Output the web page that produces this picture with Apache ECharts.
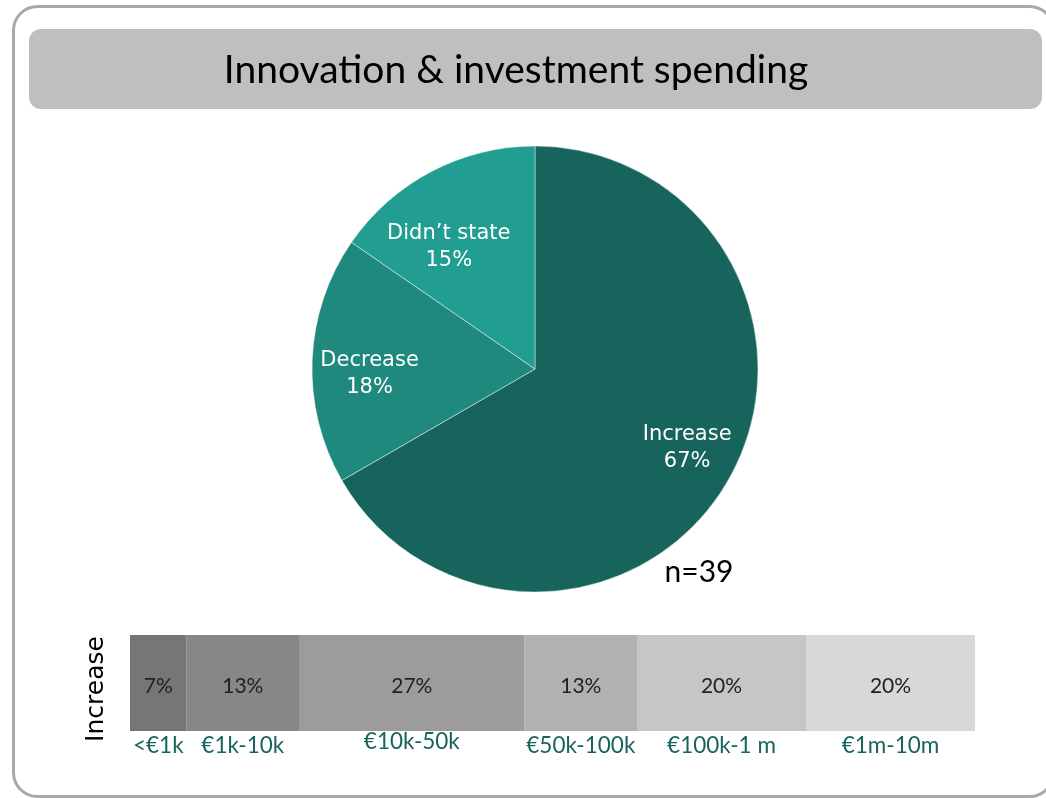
<!DOCTYPE html>
<html>
<head>
<meta charset="utf-8">
<script src="https://cdn.jsdelivr.net/npm/echarts@6/dist/echarts.min.js"></script>
<style>
  html, body { margin: 0; padding: 0; background: #fff; }
  #chart { width: 1046px; height: 798px; }
</style>
</head>
<body>
<div id="chart"></div>
<script>
// pie: answers (counts, n=39)
const pieNames = ["Increase", "Decrease", "Didn\u2019t state"];
const pieCounts = [26, 7, 6];
const pieColors = ["#17645c", "#1f897d", "#219e91"];

// bar: spend band split among the "Increase" answers (%)
const bandNames = ["<\u20ac1k", "\u20ac1k-10k", "\u20ac10k-50k", "\u20ac50k-100k", "\u20ac100k-1 m", "\u20ac1m-10m"];
const bandShares = [6.7, 13.3, 26.7, 13.3, 20, 20];
const bandColors = ["#767676", "#878787", "#9c9c9c", "#b1b1b1", "#c6c6c6", "#d8d8d8"];

const sampleText = "n=39";
const titleText = "Innovation & investment spending";

const chart = echarts.init(document.getElementById("chart"));

// label nudges so they sit where the original put them
const pieLabelOffset = [[53, 22], [-51, 10], [-33, -21]];
const bandLabelOffset = [0, 0, -4, 0, 0, 0];

let series = [];
series.push({
  type: "pie",
  center: [535, 369],
  radius: 223,
  startAngle: 90,
  silent: true,
  data: pieNames.map((n, i) => ({
    name: n,
    value: pieCounts[i],
    itemStyle: { color: pieColors[i] },
    label: { offset: pieLabelOffset[i] },
  })),
  itemStyle: { borderColor: "rgba(255,255,255,0.45)", borderWidth: 1 },
  label: {
    show: true,
    position: "inside",
    color: "#fff",
    fontFamily: "DejaVu Sans",
    fontSize: 21,
    lineHeight: 27,
    formatter: (p) => p.name + "\n" + Math.round(p.percent) + "%",
  },
  labelLine: { show: false },
});

bandNames.forEach((n, i) => {
  // the grey bar
  series.push({
    type: "bar",
    name: n,
    stack: "band",
    xAxisIndex: 0,
    yAxisIndex: 0,
    barWidth: "100%",
    silent: true,
    data: [bandShares[i]],
    itemStyle: { color: bandColors[i] },
    label: {
      show: true,
      position: "inside",
      color: "#222",
      fontFamily: "Lato",
      fontSize: 21,
      offset: [0, 3],
      formatter: (p) => Math.round(p.value) + "%",
    },
  });
  // the band names under it, same stack on a strip below
  series.push({
    type: "bar",
    name: n + "-name",
    stack: "names",
    xAxisIndex: 1,
    yAxisIndex: 1,
    barWidth: "100%",
    silent: true,
    data: [bandShares[i]],
    itemStyle: { color: "transparent" },
    label: {
      show: true,
      position: "inside",
      color: "#17645c",
      fontFamily: "Lato",
      fontSize: 22.5,
      offset: [0, bandLabelOffset[i]],
      formatter: () => n,
    },
  });
});

let option = {
  backgroundColor: "#fff",
  animation: false,
  grid: [
    { left: 130, right: 71, top: 635, height: 96 },
    { left: 130, right: 71, top: 733, height: 26 },
  ],
  xAxis: [
    { type: "value", gridIndex: 0, min: 0, max: 100, show: false },
    { type: "value", gridIndex: 1, min: 0, max: 100, show: false },
  ],
  yAxis: [
    {
      type: "category",
      gridIndex: 0,
      data: ["Increase"],
      axisLine: { show: false },
      axisTick: { show: false },
      axisLabel: {
        rotate: 90,
        margin: 21,
        color: "#000",
        fontFamily: "DejaVu Sans",
        fontSize: 25,
        padding: [0, 12, 0, 0],
      },
    },
    { type: "category", gridIndex: 1, data: [""], show: false },
  ],
  graphic: [
    {
      type: "rect",
      shape: { x: 13.5, y: 6.5, width: 1040, height: 790, r: 24 },
      style: { fill: "none", stroke: "#a9a9a9", lineWidth: 3 },
      z: -10,
    },
    {
      type: "rect",
      shape: { x: 29, y: 29, width: 1013, height: 80, r: 12 },
      style: { fill: "#bfbfbf" },
      z: -5,
    },
    {
      type: "text",
      x: 516,
      y: 70,
      style: {
        text: titleText,
        fill: "#000",
        font: "39px Lato",
        textAlign: "center",
        textVerticalAlign: "middle",
      },
    },
    {
      type: "text",
      x: 699,
      y: 572,
      z: 10,
      style: {
        text: sampleText,
        fill: "#000",
        font: "30px Lato",
        textAlign: "center",
        textVerticalAlign: "middle",
      },
    },
  ],
  series: series,
};

chart.setOption(option);
</script>
</body>
</html>
